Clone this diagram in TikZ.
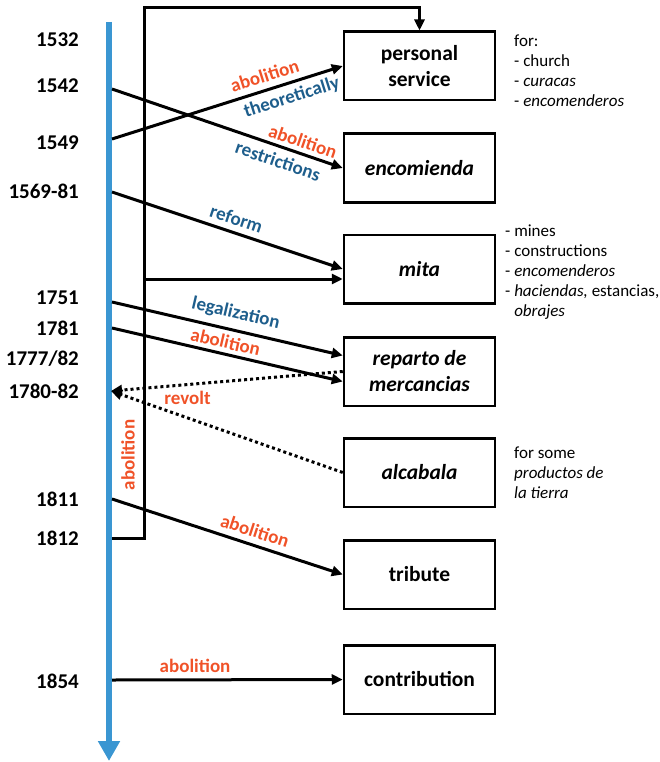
\documentclass[tikz,border=0pt]{standalone}
\usepackage{fontspec}
\setmainfont{Carlito}
\usetikzlibrary{arrows.meta}
\definecolor{lineblue}{RGB}{58,150,210}
\definecolor{labred}{RGB}{240,82,40}
\definecolor{labblue}{RGB}{30,94,140}

\begin{document}
\begin{tikzpicture}[x=1pt,y=-1pt,
    box/.style={draw, line width=2.5pt, minimum width=151pt, minimum height=68.5pt,
        align=center, font=\fontsize{21.5}{26}\selectfont\bfseries},
    yr/.style={anchor=east, inner sep=0pt, font=\fontsize{21}{24}\selectfont\bfseries},
    arr/.style={line width=3pt, -{Triangle[length=11pt,width=10pt]}},
    dotarr/.style={arr, dash pattern=on 3pt off 3pt},
    labr/.style={text=labred, inner sep=2pt, font=\fontsize{19}{22}\selectfont\bfseries},
    labb/.style={text=labblue, inner sep=2pt, font=\fontsize{19}{22}\selectfont\bfseries},
    note/.style={anchor=west, align=left, inner sep=0pt, font=\fontsize{17}{20}\selectfont}]
    % Fixed Bounding Box
    \useasboundingbox (0,0) rectangle (659,762);

    % Timeline
    \draw[lineblue, line width=6.5pt, -{Triangle[length=20pt,width=21pt]}] (109,22) -- (109,761);
    \node[yr] (y1532) at (79,40) {1532};
    \node[yr] (y1542) at (79,86) {1542};
    \node[yr] (y1549) at (79,143) {1549};
    \node[yr] (y1569) at (79,191) {1569-81};
    \node[yr] (y1751) at (79,298) {1751};
    \node[yr] (y1781) at (79,328) {1781};
    \node[yr] (y1777) at (79,359) {1777/82};
    \node[yr] (y1780) at (79,391) {1780-82};
    \node[yr] (y1811) at (79,499) {1811};
    \node[yr] (y1812) at (79,538) {1812};
    \node[yr] (y1854) at (79,681) {1854};
    \coordinate (t1542) at (112,89);
    \coordinate (t1549) at (112,139);
    \coordinate (t1569) at (112,192);
    \coordinate (t1751) at (112,302);
    \coordinate (t1781) at (112,328);
    \coordinate (t1780) at (111,391);
    \coordinate (t1811) at (112,499);
    \coordinate (t1812) at (112,538);
    \coordinate (t1854) at (112,680);
    \coordinate (brk) at (144,279);

    % Boxes
    \node[box] (ps) at (419.5,66) {personal\\service};
    \node[box] (enc) at (419.5,168) {\textit{encomienda}};
    \node[box] (mita) at (419.5,269) {\textit{mita}};
    \node[box] (rep) at (419.5,371.5) {\textit{reparto de}\\\textit{mercancias}};
    \node[box] (alc) at (419.5,472.5) {\textit{alcabala}};
    \node[box] (trib) at (419.5,574.5) {tribute};
    \node[box] (contr) at (419.5,679.5) {contribution};

    % Notes
    \node[note] (nps) at (514,71) {for:\\- church\\- \textit{curacas}\\- \textit{encomenderos}};
    \node[note] (nmita) at (505,272) {- mines\\- constructions\\- \textit{encomenderos}\\
        - \textit{haciendas,} estancias,\\\phantom{- }\textit{obrajes}};
    \node[note] (nalc) at (514,473) {for some\\\textit{productos de}\\\textit{la tierra}};

    % Bracket
    \draw[arr] (t1812) -| (144,8) -| (ps.north);
    \draw[arr] (brk) -- ([yshift=-10pt]mita.west);
    \node[labr, rotate=90] (ab0) at (128,455) {abolition};

    % Arrows
    \draw[arr] (t1549) -- node[labr, pos=.68, sloped, above=4pt] {abolition}
        node[labb, pos=.76, sloped, below=3pt] {theoretically} (ps.west);
    \draw[arr] (t1542) -- node[labr, pos=.81, sloped, above=2pt] {abolition}
        node[labb, pos=.74, sloped, below=4pt] {restrictions} (enc.west);
    \draw[arr] (t1569) -- node[labb, pos=.52, sloped, above=4pt] {reform} (mita.west);
    \draw[arr] (t1751) -- node[labb, pos=.52, sloped, above=5pt] {legalization} ([yshift=16pt]rep.west);
    \draw[arr] (t1781) -- node[labr, pos=.48, sloped, above=2pt] {abolition} ([yshift=-10pt]rep.west);
    \draw[dotarr] (rep.west) -- node[labr, pos=.67, below=3pt] {revolt} (t1780);
    \draw[dotarr] (alc.west) -- (t1780);
    \draw[arr] (t1811) -- node[labr, pos=.6, sloped, above=4pt] {abolition} (trib.west);
    \draw[arr] (t1854) -- node[labr, pos=.36, above=4pt] {abolition} (contr.west);
\end{tikzpicture}
\end{document}
